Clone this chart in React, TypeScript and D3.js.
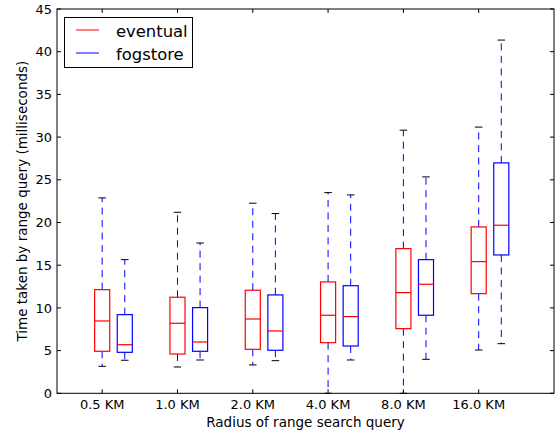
import React from "react";
import * as d3 from "d3";

const categories = ["0.5 KM", "1.0 KM", "2.0 KM", "4.0 KM", "8.0 KM", "16.0 KM"];
const seriesNames = ["eventual", "fogstore"];

const eventualLow = [3.16, 3.08, 3.32, 0, 0, 5.07];
const eventualQ1 = [4.92, 4.6, 5.15, 5.93, 7.57, 11.67];
const eventualMed = [8.47, 8.2, 8.7, 9.14, 11.79, 15.42];
const eventualQ3 = [12.14, 11.25, 12.07, 13.04, 16.94, 19.48];
const eventualHigh = [22.88, 21.2, 22.26, 23.5, 30.81, 31.17];

const fogLow = [3.87, 3.9, 3.82, 3.9, 3.98, 5.81];
const fogQ1 = [4.8, 4.92, 5.04, 5.54, 9.14, 16.2];
const fogMed = [5.69, 6.01, 7.3, 8.98, 12.77, 19.68];
const fogQ3 = [9.21, 10.03, 11.52, 12.6, 15.65, 26.98];
const fogHigh = [15.65, 17.6, 21.05, 23.23, 25.34, 41.36];

const yTicks = [0, 5, 10, 15, 20, 25, 30, 35, 40, 45];

const W = 558, H = 433;
const L = 57, R = 554, T = 9, B = 393.3;
const FONT = "DejaVu Sans, sans-serif";

export default function App() {
  const x = d3.scaleLinear().domain([0.4, 7]).range([L, R]);
  const y = d3.scaleLinear().domain([0, 45]).range([B, T]);
  const boxW = 0.2;
  const offsets = [0, 0.3];
  const boxColors = ["#ff0000", "#0000ff"];
  const series = [
    { low: eventualLow, q1: eventualQ1, med: eventualMed, q3: eventualQ3, high: eventualHigh },
    { low: fogLow, q1: fogQ1, med: fogMed, q3: fogQ3, high: fogHigh },
  ];
  const pxW = x(boxW) - x(0);
  const capW = pxW / 2;

  const marks: React.ReactNode[] = [];
  series.forEach((s, si) => {
    categories.forEach((c, i) => {
      const cx = x(i + 1 + offsets[si]);
      const lo = y(s.low[i]), q1 = y(s.q1[i]), md = y(s.med[i]), q3 = y(s.q3[i]), hi = y(s.high[i]);
      marks.push(
        <g key={`${si}-${i}`}>
          <line x1={cx} x2={cx} y1={q3} y2={hi} stroke="#0000ff" strokeWidth={1} strokeDasharray="7,5.5" />
          <line x1={cx} x2={cx} y1={q1} y2={lo} stroke="#0000ff" strokeWidth={1} strokeDasharray="7,5.5" />
          <line x1={cx - capW / 2} x2={cx + capW / 2} y1={hi} y2={hi} stroke="#000" strokeWidth={1} />
          <line x1={cx - capW / 2} x2={cx + capW / 2} y1={lo} y2={lo} stroke="#000" strokeWidth={1} />
          <rect x={cx - pxW / 2} y={q3} width={pxW} height={q1 - q3} fill="none" stroke={boxColors[si]} strokeWidth={1.2} />
          <line x1={cx - pxW / 2} x2={cx + pxW / 2} y1={md} y2={md} stroke="#ff0000" strokeWidth={1.2} />
        </g>
      );
    });
  });

  return (
    <svg width={W} height={H} style={{ position: "absolute", left: 0, top: 0, background: "#fff" }}>
      <rect x={0} y={0} width={W} height={H} fill="#fff" />
      <g>{marks}</g>
      <rect x={L} y={T} width={R - L} height={B - T} fill="none" stroke="#000" strokeWidth={1} />
      {yTicks.map((t) => (
        <g key={t}>
          <line x1={L} x2={L + 4} y1={y(t)} y2={y(t)} stroke="#000" />
          <line x1={R - 4} x2={R} y1={y(t)} y2={y(t)} stroke="#000" />
          <text x={L - 5} y={y(t)} dy="0.36em" textAnchor="end" fontFamily={FONT} fontSize={13} fill="#000">{t}</text>
        </g>
      ))}
      {categories.map((c, i) => (
        <g key={c}>
          <line x1={x(i + 1)} x2={x(i + 1)} y1={B} y2={B - 4} stroke="#000" />
          <line x1={x(i + 1)} x2={x(i + 1)} y1={T} y2={T + 4} stroke="#000" />
          <text x={x(i + 1)} y={409} textAnchor="middle" fontFamily={FONT} fontSize={13} fill="#000">{c}</text>
        </g>
      ))}
      <text x={(L + R) / 2} y={427} textAnchor="middle" fontFamily={FONT} fontSize={13.5} fill="#000">Radius of range search query</text>
      <text transform={`translate(27,${(T + B) / 2}) rotate(-90)`} textAnchor="middle" fontFamily={FONT} fontSize={13.5} fill="#000">Time taken by range query (milliseconds)</text>
      <rect x={64.5} y={17.5} width={128} height={50} fill="#fff" stroke="#000" strokeWidth={1} />
      {seriesNames.map((n, i) => (
        <g key={n}>
          <line x1={76} x2={99} y1={30 + i * 23} y2={30 + i * 23} stroke={boxColors[i]} strokeWidth={1} />
          <text x={116} y={36.5 + i * 23} fontFamily={FONT} fontSize={16.4} fill="#000">{n}</text>
        </g>
      ))}
    </svg>
  );
}
